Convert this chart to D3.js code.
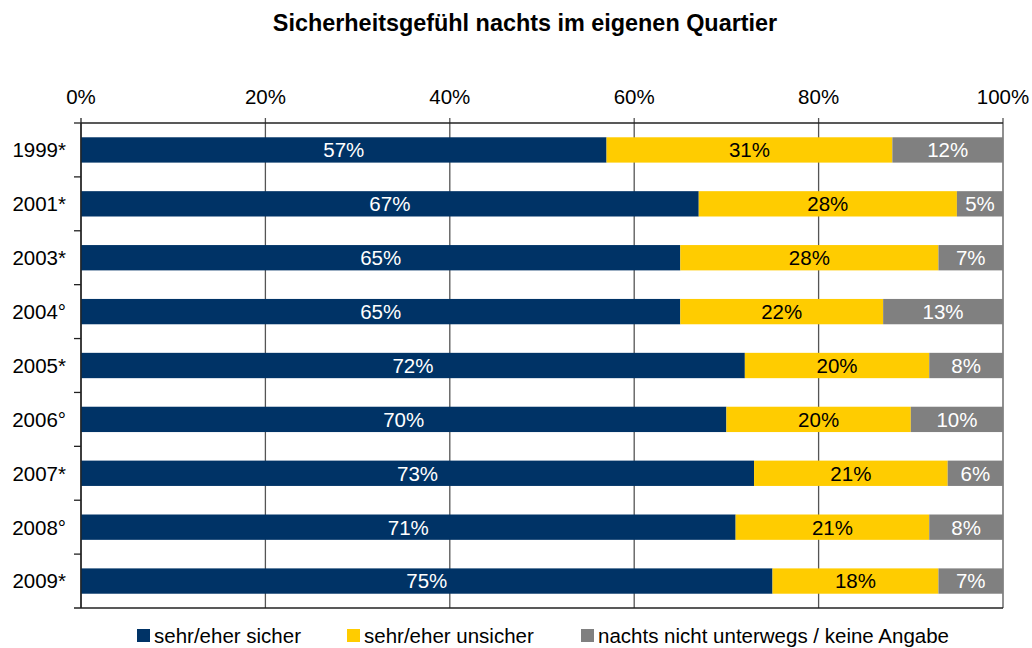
<!DOCTYPE html>
<html>
<head>
<meta charset="utf-8">
<script src="https://cdn.jsdelivr.net/npm/d3@7"></script>
<style>
  body { margin: 0; background: #fff; }
  text { font-family: "Liberation Sans", Arial, sans-serif; }
</style>
</head>
<body>
<div id="chart"></div>
<script>
// data
var years = ["1999*", "2001*", "2003*", "2004°", "2005*", "2006°", "2007*", "2008°", "2009*"];
var sicher = [57, 67, 65, 65, 72, 70, 73, 71, 75];
var unsicher = [31, 28, 28, 22, 20, 20, 21, 21, 18];
var keineAngabe = [12, 5, 7, 13, 8, 10, 6, 8, 7];
var seriesNames = ["sehr/eher sicher", "sehr/eher unsicher", "nachts nicht unterwegs / keine Angabe"];
var xTicks = [0, 20, 40, 60, 80, 100];

var colours = ["#003366", "#ffcc00", "#808080"];
var labelColours = ["#ffffff", "#000000", "#ffffff"];

var svgWidth = 1032, svgHeight = 648;
var margin = { top: 123, left: 81, right: 29, bottom: 40 };
var plotBottom = 608;
var fontSize = "20.5px";

var svg = d3.select("#chart").append("svg")
    .attr("width", svgWidth)
    .attr("height", svgHeight);

// build rows for the stack layout
var rows = years.map(function (y, i) {
    return { year: y, s0: sicher[i], s1: unsicher[i], s2: keineAngabe[i] };
});
var stacked = d3.stack().keys(["s0", "s1", "s2"])(rows);

var x = d3.scaleLinear().domain([0, 100]).range([margin.left, svgWidth - margin.right]);
var y = d3.scaleBand().domain(years).range([margin.top, plotBottom]).paddingInner(0.53).paddingOuter(0.265);
var yOuter = d3.scaleBand().domain(years).range([margin.top, plotBottom]);

// title
svg.append("text")
    .attr("x", svgWidth / 2 + 9).attr("y", 31)
    .attr("text-anchor", "middle")
    .style("font-size", "23.4px").style("font-weight", "bold")
    .text("Sicherheitsgefühl nachts im eigenen Quartier");

// grid lines (with small ticks above the top axis)
svg.append("g").selectAll("line")
    .data(xTicks)
    .enter().append("line")
    .attr("x1", function (d) { return x(d); })
    .attr("x2", function (d) { return x(d); })
    .attr("y1", 118).attr("y2", plotBottom)
    .attr("stroke", function (d) { return d === 0 ? "#222" : "#555"; })
    .attr("stroke-width", 1.3);

// top axis line
svg.append("line")
    .attr("x1", x(0)).attr("x2", x(100))
    .attr("y1", margin.top).attr("y2", margin.top)
    .attr("stroke", "#222").attr("stroke-width", 1.3);

// top tick labels
svg.append("g").selectAll("text")
    .data(xTicks)
    .enter().append("text")
    .attr("x", function (d) { return x(d); })
    .attr("y", 104)
    .attr("text-anchor", "middle")
    .style("font-size", fontSize)
    .text(function (d) { return d + "%"; });

// bars
var layers = svg.append("g").selectAll("g")
    .data(stacked)
    .enter().append("g")
    .attr("fill", function (d, i) { return colours[i]; });

layers.selectAll("rect")
    .data(function (d) { return d; })
    .enter().append("rect")
    .attr("x", function (d) { return x(d[0]); })
    .attr("width", function (d) { return x(d[1]) - x(d[0]); })
    .attr("y", function (d) { return y(d.data.year); })
    .attr("height", y.bandwidth());

// value labels
svg.append("g").selectAll("g")
    .data(stacked)
    .enter().append("g")
    .attr("fill", function (d, i) { return labelColours[i]; })
    .selectAll("text")
    .data(function (d) { return d; })
    .enter().append("text")
    .attr("x", function (d) { return (x(d[0]) + x(d[1])) / 2; })
    .attr("y", function (d) { return y(d.data.year) + y.bandwidth() / 2; })
    .attr("dy", "0.36em")
    .attr("text-anchor", "middle")
    .style("font-size", fontSize)
    .text(function (d) { return (d[1] - d[0]) + "%"; });

// left axis with ticks between categories
var axisG = svg.append("g");
axisG.append("line")
    .attr("x1", margin.left).attr("x2", margin.left)
    .attr("y1", margin.top).attr("y2", plotBottom)
    .attr("stroke", "#222").attr("stroke-width", 1.3);
axisG.append("line")
    .attr("x1", margin.left - 7).attr("x2", x(100))
    .attr("y1", plotBottom).attr("y2", plotBottom)
    .attr("stroke", "#222").attr("stroke-width", 1.3);
axisG.selectAll("line.tick")
    .data(years)
    .enter().append("line").attr("class", "tick")
    .attr("x1", margin.left - 7).attr("x2", margin.left)
    .attr("y1", function (d) { return yOuter(d); })
    .attr("y2", function (d) { return yOuter(d); })
    .attr("stroke", "#222").attr("stroke-width", 1.3);
axisG.selectAll("text")
    .data(years)
    .enter().append("text")
    .attr("x", margin.left - 15)
    .attr("y", function (d) { return y(d) + y.bandwidth() / 2; })
    .attr("dy", "0.36em")
    .attr("text-anchor", "end")
    .style("font-size", fontSize)
    .text(function (d) { return d; });

// legend
var legendX = [137, 347, 581];
var legend = svg.append("g").selectAll("g")
    .data(seriesNames)
    .enter().append("g")
    .attr("transform", function (d, i) { return "translate(" + legendX[i] + ",629)"; });
legend.append("rect")
    .attr("width", 13).attr("height", 13)
    .attr("fill", function (d, i) { return colours[i]; });
legend.append("text")
    .attr("x", 17).attr("y", 6.5)
    .attr("dy", "0.36em")
    .style("font-size", fontSize)
    .text(function (d) { return d; });
</script>
</body>
</html>
